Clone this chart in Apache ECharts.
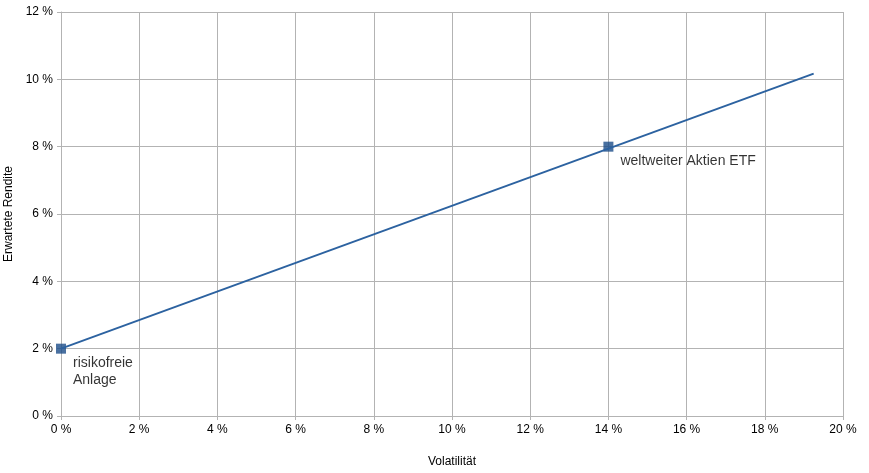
<!DOCTYPE html>
<html><head><meta charset="utf-8">
<script src="https://cdn.jsdelivr.net/npm/echarts@6/dist/echarts.min.js"></script>
<style>html,body{margin:0;padding:0;background:#fff}#c{width:869px;height:473px}</style>
</head><body><div id="c"></div>
<script>
const xTicks = [0,2,4,6,8,10,12,14,16,18,20];
const yTicks = [0,2,4,6,8,10,12];
const linePoints = [[0, 2], [19.25, 10.17]];
const pointNames = ['risikofreie\nAnlage', 'weltweiter Aktien ETF'];
const pointX = [0, 14];
const pointY = [2, 8];

const chart = echarts.init(document.getElementById('c'));
const font = 'Liberation Sans, Arial, sans-serif';
chart.setOption({
  animation: false,
  grid: {left: 61, right: 26, top: 12, bottom: 57, containLabel: false, outerBoundsMode: 'none'},
  xAxis: {
    type: 'value', min: 0, max: 20, interval: 2,
    name: 'Volatilität', nameLocation: 'middle', nameGap: 40,
    nameTextStyle: {fontFamily: font, fontSize: 12, color: '#000'},
    axisLine: {show: true, lineStyle: {color: '#b3b3b3'}},
    axisTick: {show: true, length: 4, lineStyle: {color: '#b3b3b3'}},
    axisLabel: {fontFamily: font, fontSize: 12, color: '#000', margin: 8, formatter: v => v + ' %'},
    splitLine: {show: true, lineStyle: {color: '#b3b3b3'}}
  },
  yAxis: {
    type: 'value', min: 0, max: 12, interval: 2,
    name: 'Erwartete Rendite', nameLocation: 'middle', nameGap: 44, nameRotate: 90,
    nameTextStyle: {fontFamily: font, fontSize: 12, color: '#000'},
    axisLine: {show: true, lineStyle: {color: '#b3b3b3'}},
    axisTick: {show: true, length: 4, lineStyle: {color: '#b3b3b3'}},
    axisLabel: {fontFamily: font, fontSize: 12, color: '#000', margin: 8, formatter: v => v + ' %'},
    splitLine: {show: true, lineStyle: {color: '#b3b3b3'}}
  },
  series: [
    {
      type: 'line', data: linePoints, showSymbol: false, silent: true,
      lineStyle: {color: '#2c62a0', width: 2}
    },
    {
      type: 'scatter', symbol: 'rect', symbolSize: 10,
      data: pointX.map((x, i) => ({value: [x, pointY[i]], name: pointNames[i]})),
      itemStyle: {color: '#1b4c88'},
      label: {
        show: true, position: 'right', align: 'left', verticalAlign: 'top',
        offset: [2, 6], formatter: p => p.name,
        fontFamily: font, fontSize: 14, color: '#000', lineHeight: 17
      }
    }
  ]
});
</script></body></html>
